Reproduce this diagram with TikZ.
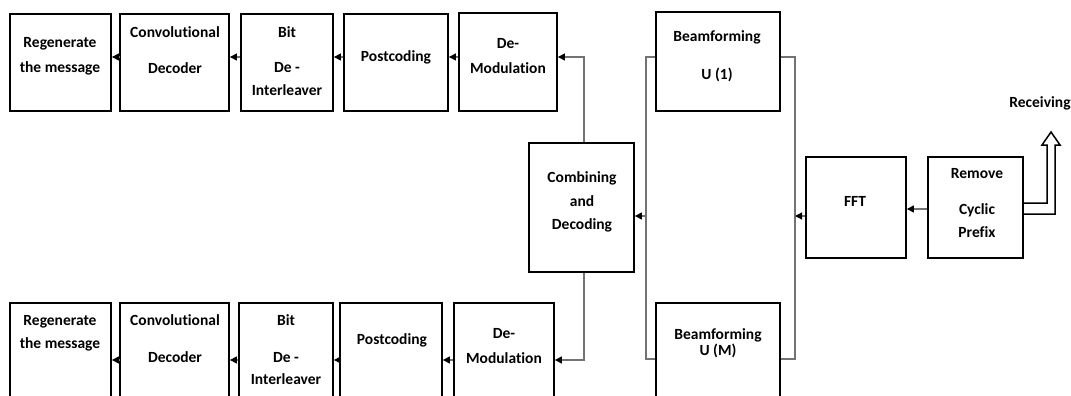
\documentclass[tikz,border=0pt]{standalone}
\usepackage{fontspec}
\setmainfont[Ligatures=NoCommon]{Carlito}
\usetikzlibrary{arrows.meta}
% block given by its corners: name, x1, y1, x2, y2
\newcommand\panel[5]{%
  \node[blk, minimum width={(#4)-(#2)}, minimum height={(#5)-(#3)}]
    (#1) at ({((#2)+(#4))/2},{((#3)+(#5))/2}) {};}
\begin{document}
\begin{tikzpicture}[x=1pt,y=-1pt,
  blk/.style={draw=black,line width=1.8pt,inner sep=0pt},
  lbl/.style={font=\fontsize{15.5}{18}\selectfont\bfseries,inner sep=0pt},
  wire/.style={draw=black!55,line width=1.1pt},
  feed/.style={wire,-{Triangle[length=7pt,width=7pt,color=black]}}
]
\useasboundingbox (0,0) rectangle (1071,396);
\clip (0,0) rectangle (1071,396);

% upper receive chain
\panel{reg1}{10}{14}{111}{111}
\panel{conv1}{120}{14}{229}{111}
\panel{bit1}{241}{14}{333}{111}
\panel{post1}{344}{14}{448}{111}
\panel{demod1}{459}{13}{557}{111}
\panel{bf1}{656}{12}{780}{111}
% centre column
\panel{comb}{529}{143}{634}{272}
\panel{fft}{806}{157}{906}{258}
\panel{rcp}{928}{157}{1023}{258}
% lower receive chain
\panel{reg2}{10}{303}{111}{402}
\panel{conv2}{120}{303}{229}{402}
\panel{bit2}{239}{303}{333}{402}
\panel{post2}{340}{303}{442}{402}
\panel{demod2}{454}{303}{554}{402}
\panel{bfM}{656}{303}{780}{402}

% labels
\node[lbl] (l-reg1a) at (60,44) {Regenerate};
\node[lbl] (l-reg1b) at (60,68) {the message};
\node[lbl] (l-conv1a) at (175,32) {Convolutional};
\node[lbl] (l-conv1b) at (175,68) {Decoder};
\node[lbl] (l-bit1a) at (287,32) {Bit};
\node[lbl] (l-bit1b) at (287,68) {De -};
\node[lbl] (l-bit1c) at (287,90) {Interleaver};
\node[lbl] (l-post1) at (396,57) {Postcoding};
\node[lbl] (l-dem1a) at (508,44) {De-};
\node[lbl] (l-dem1b) at (508,68) {Modulation};
\node[lbl] (l-bf1a) at (717,37) {Beamforming};
\node[lbl] (l-bf1b) at (717,75) {U (1)};
\node[lbl] (l-comba) at (582,178) {Combining};
\node[lbl] (l-combb) at (582,201) {and};
\node[lbl] (l-combc) at (582,225) {Decoding};
\node[lbl] (l-fft) at (855,201) {FFT};
\node[lbl] (l-rcpa) at (977,174) {Remove};
\node[lbl] (l-rcpb) at (977,210) {Cyclic};
\node[lbl] (l-rcpc) at (977,232) {Prefix};
\node[lbl] (l-recv) at (1040,103) {Receiving};
\node[lbl] (l-reg2a) at (60,322) {Regenerate};
\node[lbl] (l-reg2b) at (60,344) {the message};
\node[lbl] (l-conv2a) at (175,320) {Convolutional};
\node[lbl] (l-conv2b) at (175,357) {Decoder};
\node[lbl] (l-bit2a) at (286,320) {Bit};
\node[lbl] (l-bit2b) at (286,358) {De -};
\node[lbl] (l-bit2c) at (286,379) {Interleaver};
\node[lbl] (l-post2) at (392,340) {Postcoding};
\node[lbl] (l-dem2a) at (504,334) {De-};
\node[lbl] (l-dem2b) at (504,358) {Modulation};
\node[lbl] (l-bfMa) at (718,335) {Beamforming};
\node[lbl] (l-bfMb) at (718,351) {U (M)};

% chain links
\draw[feed] (demod1.west|-0,57) -- (post1.east|-0,57);
\draw[feed] (post1.west|-0,57) -- (bit1.east|-0,57);
\draw[feed] (bit1.west|-0,57) -- (conv1.east|-0,57);
\draw[feed] (conv1.west|-0,57) -- (reg1.east|-0,57);
\draw[feed] (demod2.west|-0,360) -- (post2.east|-0,360);
\draw[feed] (post2.west|-0,360) -- (bit2.east|-0,360);
\draw[feed] (bit2.west|-0,360) -- (conv2.east|-0,360);
\draw[feed] (conv2.west|-0,360) -- (reg2.east|-0,360);

% combiner outputs
\draw[feed] (comb.north-|584,0) -- (584,57) -- (demod1.east|-0,57);
\draw[feed] (comb.south-|584,0) -- (584,360) -- (demod2.east|-0,360);

% beamforming buses
\draw[wire] (bf1.west|-0,57) -- (646,57) -- (646,359) -- (bfM.west|-0,359);
\draw[wire] (bf1.east|-0,57) -- (795,57) -- (795,359) -- (bfM.east|-0,359);
\draw[feed] (646,216) -- (comb.east|-0,216);
\draw[feed] (fft.west|-0,216) -- (795,216);
\draw[feed] (rcp.west|-0,209) -- (fft.east|-0,209);

% hollow receive arrow
\draw[line width=1.5pt,line join=miter]
  ([yshift=4.5pt]rcp.east) -| (1047,145) -- (1042,145) -- (1051,132)
  -- (1060,145) -- (1055,145) |- ([yshift=-6.5pt]rcp.east);
\end{tikzpicture}
\end{document}
